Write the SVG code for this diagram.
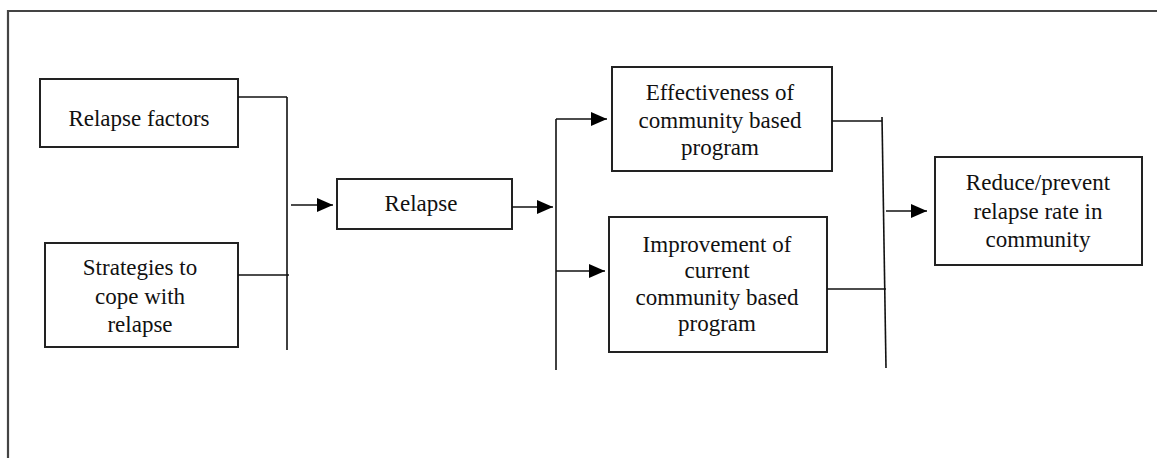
<svg xmlns="http://www.w3.org/2000/svg" width="1157" height="458" viewBox="0 0 1157 458">
<defs>
<style>
.box{fill:#fff;stroke:#222;stroke-width:2}
.t{font-family:"Liberation Serif","Times New Roman",serif;font-size:23px;fill:#111;text-anchor:middle}
.c{fill:none;stroke:#111;stroke-width:1.6}
.frame{fill:none;stroke:#444;stroke-width:2.2}
</style>
<marker id="ah" markerUnits="userSpaceOnUse" markerWidth="17" markerHeight="14" refX="16" refY="7" orient="auto">
<path d="M0,0 L16,7 L0,14 z" fill="#000"/>
</marker>
</defs>
<rect width="1157" height="458" fill="#fff"/>
<path class="frame" d="M8,458 V11 H1157"/>
<g id="n-factors">
<rect class="box" x="40" y="79" width="198" height="68"/>
<text class="t" x="139" y="126">Relapse factors</text>
</g>
<g id="n-strategies">
<rect class="box" x="45" y="243" width="193" height="104"/>
<text class="t" x="140" y="275">Strategies to</text>
<text class="t" x="140" y="304">cope with</text>
<text class="t" x="140" y="332">relapse</text>
</g>
<g id="n-relapse">
<rect class="box" x="337" y="179" width="175" height="50"/>
<text class="t" x="421" y="211">Relapse</text>
</g>
<g id="n-effectiveness">
<rect class="box" x="612" y="67" width="220" height="104"/>
<text class="t" x="720" y="100">Effectiveness of</text>
<text class="t" x="720" y="128">community based</text>
<text class="t" x="720" y="155">program</text>
</g>
<g id="n-improvement">
<rect class="box" x="609" y="217" width="218" height="135"/>
<text class="t" x="717" y="252">Improvement of</text>
<text class="t" x="717" y="278">current</text>
<text class="t" x="717" y="305">community based</text>
<text class="t" x="717" y="331">program</text>
</g>
<g id="n-reduce">
<rect class="box" x="935" y="157" width="207" height="108"/>
<text class="t" x="1038" y="190">Reduce/prevent</text>
<text class="t" x="1038" y="219">relapse rate in</text>
<text class="t" x="1038" y="247">community</text>
</g>
<g id="connectors">
<path class="c" d="M238,97 H287"/>
<path class="c" d="M238,275 H289"/>
<path class="c" d="M287,97 V350"/>
<path class="c" d="M291,205 H333" marker-end="url(#ah)"/>
<path class="c" d="M512,207 H553" marker-end="url(#ah)"/>
<path class="c" d="M556,119 V370"/>
<path class="c" d="M556,119 H607" marker-end="url(#ah)"/>
<path class="c" d="M556,271 H605" marker-end="url(#ah)"/>
<path class="c" d="M832,121 H882"/>
<path class="c" d="M827,289 H886"/>
<path class="c" d="M882,117 L886,368"/>
<path class="c" d="M886,211 H927" marker-end="url(#ah)"/>
</g>
</svg>
